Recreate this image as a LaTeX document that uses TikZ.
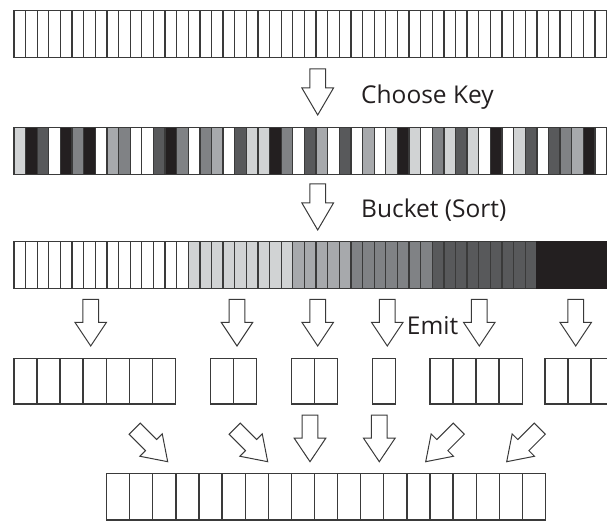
\documentclass[tikz,border=0pt]{standalone}
\usepackage{fontspec}
\setmainfont{Open Sans}
\definecolor{gK}{HTML}{231F20}
\definecolor{gD}{HTML}{58595B}
\definecolor{gM}{HTML}{808285}
\definecolor{gA}{HTML}{A7A9AC}
\definecolor{gL}{HTML}{D1D3D4}
\definecolor{gW}{HTML}{FFFFFF}
\definecolor{edge}{HTML}{3A3A3A}
\definecolor{ink}{HTML}{231F20}
\begin{document}
\begin{tikzpicture}[x=1pt,y=-1pt,
  narrowcell/.style={draw=edge, line width=1.3pt, fill=white, inner sep=0pt,
    minimum width=11.62pt, minimum height=47pt, anchor=north west},
  widecell/.style={draw=edge, line width=1.2pt, fill=white, inner sep=0pt,
    minimum width=23.05pt, minimum height=45.7pt, anchor=north west},
  arrowline/.style={draw=edge, line width=1pt, fill=white, line join=miter},
  lbl/.style={text=ink, inner sep=0pt, anchor=base west,
    font=\fontsize{24.5}{29}\selectfont},
  pics/barrow/.style 2 args={code={
    % block arrow, tip at the origin, pointing down; #1 head length, #2 total length
    \path[arrowline] (0,0) -- (15.8,-#1) -- (7.85,-#1) -- (7.85,-#2)
      -- (-7.85,-#2) -- (-7.85,-#1) -- (-15.8,-#1) -- cycle;
  }},
]
\useasboundingbox (0,0) rectangle (607,521);
\clip (0,0) rectangle (607,521);

% unsorted records
\foreach \i in {0,...,51}
  \node[narrowcell] (raw\i) at ({13.3+\i*11.62},10) {};

% records coloured by key
\foreach \c [count=\i from 0] in {gL,gK,gD,gW,gK,gM,gK,gW,gA,gM,gW,gW,gD,gK,gM,gW,gM,gA,gW,gD,
    gL,gL,gK,gM,gW,gD,gA,gW,gD,gW,gA,gW,gL,gK,gL,gW,gM,gL,gD,gL,gW,gK,gW,gL,gD,gW,gD,gM,gA,gK,gW,gD}
  \node[narrowcell, fill=\c] (key\i) at ({13.3+\i*11.62},126.7) {};

% records grouped into buckets; the darkest bucket reads as one solid block
\foreach \c [count=\i from 0] in {gW,gW,gW,gW,gW,gW,gW,gW,gW,gW,gW,gW,gW,gW,gW,
    gL,gL,gL,gL,gL,gL,gL,gL,gL,gA,gA,gA,gA,gA,gM,gM,gM,gM,gM,gM,gM,
    gD,gD,gD,gD,gD,gD,gD,gD,gD}
  \node[narrowcell, fill=\c] (bkt\i) at ({13.3+\i*11.62},241) {};
\foreach \i in {45,...,51}
  \node[narrowcell, fill=gK, draw=gK] (bkt\i) at ({13.3+\i*11.62},241) {};

% emitted runs
\foreach \i in {0,...,6} \node[widecell] (ea\i) at ({13.3+\i*23.05},357.7) {};
\foreach \i in {0,1} \node[widecell] (eb\i) at ({210+\i*23.05},357.7) {};
\foreach \i in {0,1} \node[widecell] (ec\i) at ({290.7+\i*23.05},357.7) {};
\node[widecell] (ed0) at (371.7,357.7) {};
\foreach \i in {0,...,3} \node[widecell] (ee\i) at ({429.3+\i*23.05},357.7) {};
\foreach \i in {0,...,2} \node[widecell] (ef\i) at ({544.3+\i*23.05},357.7) {};

% merged output
\foreach \i in {0,...,18}
  \node[widecell, minimum height=46.6pt] (out\i) at ({106+\i*23.1},472.7) {};

% step arrows and labels
\pic at (317.7,115) {barrow={27}{46}};
\node[lbl] (choose) at (361,103.3) {Choose Key};
\pic at (317.7,230) {barrow={27}{46}};
\node[lbl] (bucket) at (361,217.7) {Bucket (Sort)};

\foreach \x in {90.7,237,317.7,387.3,479.3,575.7}
  \pic at (\x,346) {barrow={23.7}{46.7}};
\node[lbl] (emit) at (406.7,334.3) {Emit};

\pic[rotate=45] at (167.7,461.7) {barrow={23.5}{46.7}};
\pic[rotate=45] at (267.7,461.7) {barrow={23.5}{46.7}};
\pic at (310,461.7) {barrow={23.5}{46.7}};
\pic at (379.3,461.7) {barrow={23.5}{46.7}};
\pic[rotate=-45] at (425.7,461.7) {barrow={23.5}{46.7}};
\pic[rotate=-45] at (506.7,461.7) {barrow={23.5}{46.7}};
\end{tikzpicture}
\end{document}
